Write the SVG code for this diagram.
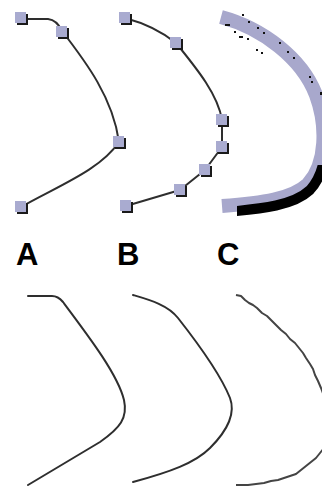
<svg xmlns="http://www.w3.org/2000/svg" width="322" height="487" viewBox="0 0 322 487">
<defs>
<style>
.ln{fill:none;stroke:#2e2e2e;stroke-width:2;stroke-linecap:round;stroke-linejoin:round}
.sq{fill:#a9abd0}
.sh{fill:#1a1a1a}
.lbl{font-family:"Liberation Sans",Arial,sans-serif;font-weight:bold;font-size:31px;fill:#000}
.wig{fill:none;stroke:#444;stroke-width:2;stroke-linejoin:round}
.band{fill:none}
</style>
<g id="hnd"><rect class="sh" x="-4" y="-4" width="11" height="11"/><rect class="sq" x="-6" y="-6" width="11" height="11"/></g>
<path id="bandPath" d="M221,17 C262,28 302,58 316,95 C327,125 327,163 308,184 C292,199 262,203 222,206"/>
<clipPath id="shClip"><rect x="237" y="165" width="100" height="75"/></clipPath>
</defs>
<rect width="322" height="487" fill="#fff"/>
<g id="curveA">
<path class="ln" d="M21,19 L48,19 Q57,20 62,31 C86,62 113,98 119,142 C100,170 60,185 21,207"/>
<use href="#hnd" x="21" y="18"/>
<use href="#hnd" x="62" y="32"/>
<use href="#hnd" x="119" y="142"/>
<use href="#hnd" x="21" y="207"/>
</g>
<g id="curveB">
<path class="ln" d="M125,18 Q155,26 176,43 C198,70 218,95 222,120 L222,147 L205,170 L180,190 L126,206"/>
<use href="#hnd" x="125" y="18"/>
<use href="#hnd" x="176" y="43"/>
<use href="#hnd" x="222" y="120"/>
<use href="#hnd" x="222" y="147"/>
<use href="#hnd" x="205" y="170"/>
<use href="#hnd" x="180" y="190"/>
<use href="#hnd" x="126" y="206"/>
</g>
<g id="curveC">
<use href="#bandPath" class="band" stroke="#a8a8cc" stroke-width="14"/>
<g clip-path="url(#shClip)"><use href="#bandPath" class="band" stroke="#000" stroke-width="10" transform="translate(2,6)"/></g>
<g fill="#111">
<rect x="242" y="14" width="2" height="2"/><rect x="248" y="21" width="2" height="2"/><rect x="257" y="27" width="2" height="2"/><rect x="263" y="32" width="2" height="2"/><rect x="279" y="42" width="2" height="2"/><rect x="287" y="51" width="2" height="2"/><rect x="293" y="57" width="2" height="2"/><rect x="309" y="76" width="2" height="2"/><rect x="311" y="81" width="2" height="2"/><rect x="320" y="92" width="2" height="3"/><rect x="225" y="24" width="5" height="2"/><rect x="234" y="31" width="2" height="2"/><rect x="239" y="36" width="4" height="2"/><rect x="247" y="38" width="2" height="2"/><rect x="256" y="49" width="2" height="2"/><rect x="261" y="52" width="2" height="2"/>
</g>
</g>
<g id="labels">
<text class="lbl" x="16" y="265">A</text>
<text class="lbl" x="117" y="265">B</text>
<text class="lbl" x="217" y="265">C</text>
</g>
<g id="smoothA"><path class="ln" d="M28,296 L52,296 Q58,296 63,302 C90,338 118,375 124,400 C128,418 120,428 100,442 L28,485"/></g>
<g id="smoothB"><path class="ln" d="M133,295 C150,300 168,305 178,318 C200,346 222,378 230,398 C236,414 228,430 210,448 C195,463 170,472 133,482"/></g>
<g id="smoothC"><path class="wig" d="M236,295 L241,296 L245,300 L249,303 L253,305 L257,308 L262,313 L267,316 L271,320 L276,325 L281,330 L286,334 L290,339 L295,343 L299,348 L303,353 L306,358 L310,364 L313,369 L315,375 L318,381 L321,388 L324,396 M324,448 L320,453 L316,458 L311,462 L306,466 L301,470 L296,474 L290,476 L284,478 L278,480 L271,481 L264,483 L256,484 L248,485 L240,485 L236,485"/></g>
</svg>
